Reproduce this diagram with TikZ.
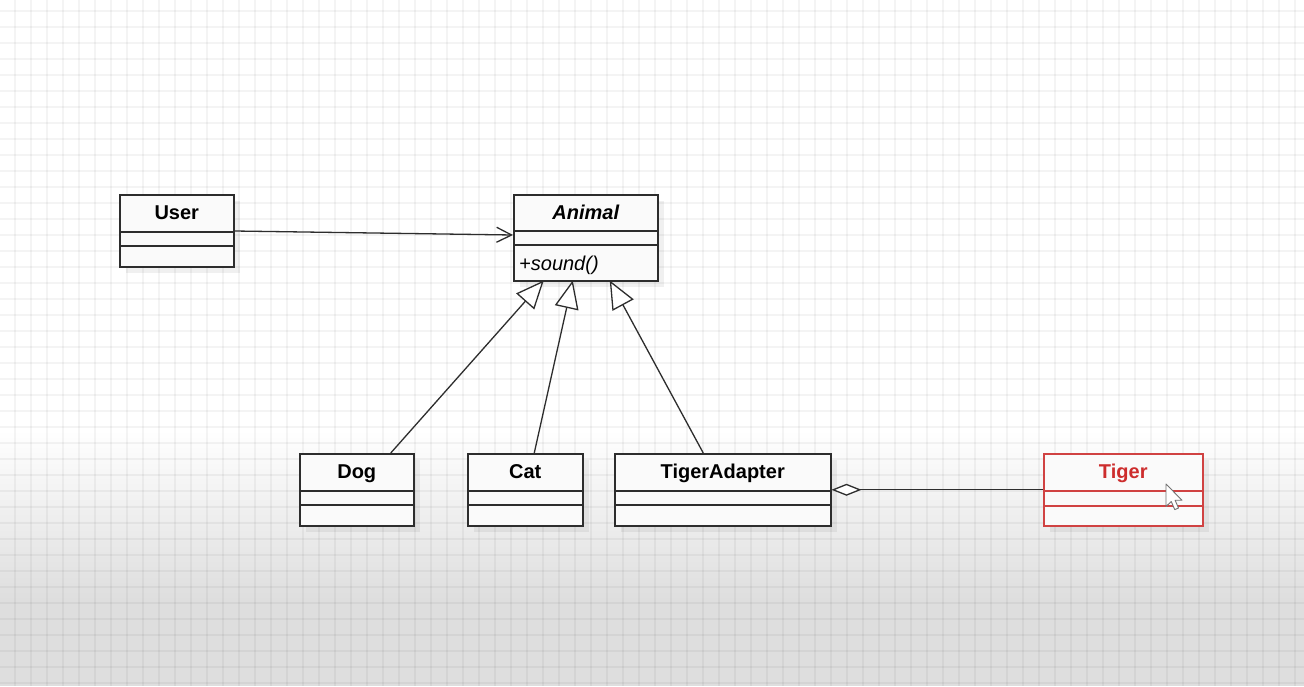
\documentclass[tikz,border=0pt]{standalone}
\usepackage{fontspec}
\setmainfont{Liberation Sans}
\usetikzlibrary{arrows.meta,shadows}
\definecolor{boxc}{RGB}{45,45,45}
\definecolor{boxfill}{RGB}{250,250,250}
\definecolor{tigerred}{RGB}{205,45,45}
\definecolor{tigerline}{RGB}{208,66,66}
\definecolor{bgdark}{RGB}{222,222,222}
\begin{document}
\begin{tikzpicture}[x=1pt,y=-1pt,
  umlbox/.style={draw=boxc, line width=1.5pt, fill=boxfill, inner sep=0pt, anchor=north west,
    drop shadow={shadow xshift=6pt, shadow yshift=-6pt, opacity=0.06, fill=black}},
  divider/.style={draw=boxc, line width=1.5pt},
  titletext/.style={font=\fontsize{20}{23}\selectfont\bfseries, text=black, inner sep=0pt, anchor=base},
  optext/.style={font=\fontsize{20}{23}\selectfont\itshape, text=black, inner sep=0pt, anchor=base west},
  conn/.style={draw=boxc, line width=1.3pt},
  assoc/.style={conn, -{Straight Barb[length=15pt, width=15pt, line width=1.3pt]}},
  generalize/.style={conn, -{Triangle[length=28pt, width=24pt, fill=white, line width=1.3pt]}},
  aggreg/.style={conn, {Diamond[length=30pt, width=12pt, fill=white, line width=1.3pt]}-}
]
\useasboundingbox (0,0) rectangle (1304,686);
% background
\fill[white] (0,0) rectangle (1304,430);
\shade[top color=white, bottom color=bgdark] (0,429.5) rectangle (1304,600.5);
\fill[bgdark] (0,600) rectangle (1304,686);
\foreach \gx in {15,31,...,1304} \draw[black, opacity=0.045, line width=1.5pt] (\gx,0) -- (\gx,686);
\foreach \gy in {11,27,...,686} \draw[black, opacity=0.045, line width=1.5pt] (0,\gy) -- (1304,\gy);

% boxes
\node[umlbox, minimum width=114pt, minimum height=72pt] (user) at (119,194) {};
\node[umlbox, minimum width=144pt, minimum height=86pt] (animal) at (513,194) {};
\node[umlbox, minimum width=114pt, minimum height=72pt] (dog) at (299,453) {};
\node[umlbox, minimum width=115pt, minimum height=72pt] (cat) at (467,453) {};
\node[umlbox, minimum width=216pt, minimum height=72pt] (ta) at (614,453) {};
\node[umlbox, draw=tigerline, minimum width=159pt, minimum height=72pt] (tiger) at (1043,453) {};

% dividers
\foreach \b in {user,dog,cat,ta}{
  \draw[divider] ([yshift=-38pt]\b.north west) -- ([yshift=-38pt]\b.north east);
  \draw[divider] ([yshift=-52pt]\b.north west) -- ([yshift=-52pt]\b.north east);
}
\draw[divider] ([yshift=-37pt]animal.north west) -- ([yshift=-37pt]animal.north east);
\draw[divider] ([yshift=-51pt]animal.north west) -- ([yshift=-51pt]animal.north east);
\draw[divider, draw=tigerline] ([yshift=-38pt]tiger.north west) -- ([yshift=-38pt]tiger.north east);
\draw[divider, draw=tigerline] ([yshift=-53pt]tiger.north west) -- ([yshift=-53pt]tiger.north east);

% titles
\node[titletext] (usert) at ([yshift=-25.5pt]user.north) {User};
\node[titletext, font=\fontsize{20}{23}\selectfont\bfseries\itshape] (animalt) at ([yshift=-25.5pt]animal.north) {Animal};
\node[optext] (animalop) at ([xshift=6pt,yshift=-76pt]animal.north west) {+sound()};
\node[titletext] (dogt) at ([yshift=-25.5pt]dog.north) {Dog};
\node[titletext] (catt) at ([yshift=-25.5pt]cat.north) {Cat};
\node[titletext] (tat) at ([yshift=-25.5pt]ta.north) {TigerAdapter};
\node[titletext, text=tigerred] (tigert) at ([yshift=-25.5pt]tiger.north) {Tiger};

% connectors
\draw[assoc] ([yshift=-37pt]user.north east) -- ([yshift=-41pt]animal.north west);
\draw[generalize] ([xshift=34pt]dog.north) -- ([xshift=-42pt,yshift=1pt]animal.south);
\draw[generalize] ([xshift=9pt]cat.north) -- ([xshift=-13pt,yshift=1pt]animal.south);
\draw[generalize] ([xshift=-19.5pt]ta.north) -- ([xshift=24pt,yshift=1pt]animal.south);
\draw[aggreg] (ta.east) -- (tiger.west);

% mouse cursor
\begin{scope}[shift={(1166,484)}, scale=1.25]
\draw[fill=white, draw=black!55, line width=0.9pt, line join=round]
  (0,0) -- (0,18) -- (4.2,14) -- (7,20.5) -- (10,19.2) -- (7.3,13) -- (12.8,13) -- cycle;
\end{scope}
\end{tikzpicture}
\end{document}
